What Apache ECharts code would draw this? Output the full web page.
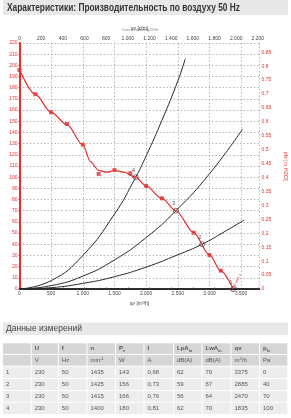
<!DOCTYPE html>
<html><head><meta charset="utf-8">
<script src="https://cdn.jsdelivr.net/npm/echarts@6/dist/echarts.min.js"></script>
<style>html,body{margin:0;padding:0;background:#fff}#c{width:291px;height:418px}</style>
</head><body><div id="c"></div>
<script>
// ---- data ----
// measured points of the fan curve (red markers)
const fanQ = [0, 250, 500, 750, 1000, 1250, 1500, 1750, 2000, 2250, 2750, 3000, 3180];
const fanP = [195.8, 174.2, 158, 147.6, 129, 102.9, 106.5, 103.5, 92.1, 81.1, 50.4, 30.4, 16.4];
// fitted fan curve line
const fanLineQ = [0, 250, 500, 750, 1000, 1120, 1250, 1380, 1500, 1650, 1835, 2000, 2250, 2470, 2750, 3000, 3180, 3375];
const fanLineP = [196, 174, 158, 147, 129, 114, 106, 104.5, 106, 104.5, 100, 92, 81, 70, 50.5, 30.5, 16, 0];
const sysAQ = [0, 500, 1000, 1500, 1835, 2000, 2250, 2500, 2619];
const sysAP = [0, 7.5, 30, 67, 100, 119, 151, 186, 206];
const sysBQ = [0, 500, 1000, 1500, 2000, 2470, 3000, 3522];
const sysBP = [0, 3, 11.5, 26, 46, 70, 103, 143];
const sysCQ = [0, 500, 1000, 1500, 2000, 2500, 2885, 3200, 3549];
const sysCP = [0, 1.2, 5, 11, 19.6, 30.6, 40, 50, 61.7];
const opLabels = ['1', '2', '3', '4'];
const opQ = [3375, 2885, 2470, 1835];
const opP = [0, 40, 70, 100];
const tblHead1 = ['', 'U', 'f', 'n', 'P{s|e}', 'I', 'LpA{s|in}', 'LwA{s|in}', 'qv', 'p{s|fs}'];
const tblHead2 = ['', 'V', 'Hz', 'min{sup|-1}', 'W', 'A', 'dB(A)', 'dB(A)', 'm{sup|3}/h', 'Pa'];
const tblRows = [
  ['1', '230', '50', '1435', '143', '0,68', '62', '70', '3375', '0'],
  ['2', '230', '50', '1425', '156', '0,73', '59', '67', '2885', '40'],
  ['3', '230', '50', '1415', '166', '0,76', '56', '64', '2470', '70'],
  ['4', '230', '50', '1400', '180', '0,81', '62', '70', '1835', '100']
];
const titleText = 'Характеристики: Производительность по воздуху 50 Hz';
const tableTitle = 'Данные измерений';

// ---- chart ----
const RED = '#e2312f';
const FONT = 'Liberation Sans, Arial, sans-serif';
const PA_PER_INH2O = 249.089;
const chart = echarts.init(document.getElementById('c'), null, {renderer: 'canvas'});
const thou = v => v >= 1000 ? Math.floor(v / 1000) + '.' + String(v % 1000).padStart(3, '0') : String(v);
const gridLine = {show: true, lineStyle: {color: '#9a9a9a', width: 0.7, type: [1.5, 2]}};

const graphic = [];
graphic.push({type: 'rect', shape: {x: 3, y: 0, width: 285, height: 15}, style: {fill: '#e8e8e8'}, silent: true});
graphic.push({type: 'text', x: 7, y: 8, scaleX: 0.835, style: {text: titleText, font: 'bold 10px ' + FONT, fill: '#333', textVerticalAlign: 'middle'}});
graphic.push({type: 'text', x: 140, y: 30, style: {text: 'Curve a: Luftleistung 50 Hz', font: '3px ' + FONT, fill: '#777', textAlign: 'center', textVerticalAlign: 'middle'}});
graphic.push({type: 'text', x: 236, y: 283, rotation: 1.15, style: {text: '1435 min-1', font: '4px ' + FONT, fill: RED, textAlign: 'center', textVerticalAlign: 'middle'}});
graphic.push({type: 'rect', shape: {x: 3, y: 322.5, width: 285, height: 12.5}, style: {fill: '#e8e8e8'}});
graphic.push({type: 'text', x: 6, y: 329, style: {text: tableTitle, font: '8.5px ' + FONT, fill: '#444', textVerticalAlign: 'middle'}});

const colX = [3, 31.7, 58.8, 87.5, 116, 144.5, 174, 202.5, 231.5, 260, 288.3];
const rowY = [343.3, 355, 366.7, 379, 391, 402.7, 415];
const allRows = [tblHead1, tblHead2].concat(tblRows);
allRows.forEach((row, r) => {
  row.forEach((cell, c) => {
    graphic.push({type: 'rect', shape: {x: colX[c], y: rowY[r], width: colX[c + 1] - colX[c] - 1, height: rowY[r + 1] - rowY[r] - 1},
      style: {fill: r < 2 ? '#d6d6d6' : '#ededed'}});
    graphic.push({type: 'text', x: colX[c] + 3, y: (rowY[r] + rowY[r + 1]) / 2 - 0.5,
      style: {text: cell, font: (r === 0 ? 'bold ' : '') + '6px ' + FONT, fill: '#555', textVerticalAlign: 'middle',
        rich: {s: {fontSize: 4, fill: '#555', fontWeight: 'bold', verticalAlign: 'bottom', padding: [4, 0, 0, 0]},
               sup: {fontSize: 4, fill: '#555', verticalAlign: 'top', padding: [0, 0, 3, 0]}}}});
  });
});

const pts = (qs, ps) => qs.map((q, i) => [q, ps[i]]);

chart.setOption({
  animation: false,
  textStyle: {fontFamily: FONT},
  grid: {left: 19.5, right: 31.5, top: 43, bottom: 129, containLabel: false, outerBoundsMode: 'none'},
  graphic: graphic,
  xAxis: [
    {type: 'value', position: 'bottom', min: 0, max: 3790, interval: 500,
      axisLine: {show: true, lineStyle: {color: '#222', width: 1.5}}, axisTick: {show: false},
      axisLabel: {fontSize: 5, color: '#444', margin: 2, showMaxLabel: false, formatter: thou},
      splitLine: gridLine,
      name: 'qv [m³/h]', nameLocation: 'middle', nameGap: 9, nameTextStyle: {fontSize: 5, color: '#444'}},
    {type: 'value', position: 'top', min: 0, max: 2215, interval: 200,
      axisLine: {show: true, lineStyle: {color: '#222', width: 1.5}},
      axisTick: {show: true, length: 2, lineStyle: {color: '#555', width: 0.5}},
      axisLabel: {fontSize: 5, color: '#444', margin: 2, formatter: thou},
      splitLine: {show: false},
      name: 'qv [cfm]', nameLocation: 'middle', nameGap: 9, nameTextStyle: {fontSize: 5, color: '#444'}}
  ],
  yAxis: [
    {type: 'value', position: 'left', min: 0, max: 220, interval: 10,
      axisLine: {show: true, lineStyle: {color: RED, width: 2}},
      axisTick: {show: true, length: 1.5, lineStyle: {color: RED, width: 0.5}},
      axisLabel: {fontSize: 5, color: RED, margin: 2},
      splitLine: gridLine,
      name: 'pfs [Pa]', nameLocation: 'middle', nameGap: 13, nameTextStyle: {fontSize: 5.5, color: RED}},
    {type: 'value', position: 'right', min: 0, max: 220 / PA_PER_INH2O, interval: 0.05,
      axisLine: {show: true, lineStyle: {color: RED, width: 1.5}},
      axisTick: {show: true, length: 1.5, lineStyle: {color: RED, width: 0.5}},
      axisLabel: {fontSize: 5, color: RED, margin: 2, showMaxLabel: false, formatter: v => String(+v.toFixed(2))},
      splitLine: {show: false},
      name: 'pfs [in H2O]', nameLocation: 'middle', nameGap: 15, nameRotate: -90, nameTextStyle: {fontSize: 5.5, color: RED}}
  ],
  series: [
    {type: 'line', data: pts(sysAQ, sysAP), smooth: true, symbol: 'none', lineStyle: {color: '#2a2a2a', width: 1}},
    {type: 'line', data: pts(sysBQ, sysBP), smooth: true, symbol: 'none', lineStyle: {color: '#2a2a2a', width: 1}},
    {type: 'line', data: pts(sysCQ, sysCP), smooth: true, symbol: 'none', lineStyle: {color: '#2a2a2a', width: 1}},
    {type: 'line', data: pts(fanLineQ, fanLineP), smooth: 0.3, smoothMonotone: 'x', symbol: 'none',
      lineStyle: {color: RED, width: 1.2}, z: 3},
    {type: 'scatter', data: pts(fanQ, fanP), symbol: 'rect', symbolSize: 4, itemStyle: {color: RED}, z: 3},
    {type: 'scatter', data: pts(opQ, opP), symbol: 'circle', symbolSize: 5, z: 4,
      itemStyle: {color: 'rgba(0,0,0,0)', borderColor: '#333', borderWidth: 0.8},
      label: {show: true, formatter: p => opLabels[p.dataIndex], position: [-1, -7], fontSize: 6, color: '#333'}}
  ]
});
</script></body></html>
